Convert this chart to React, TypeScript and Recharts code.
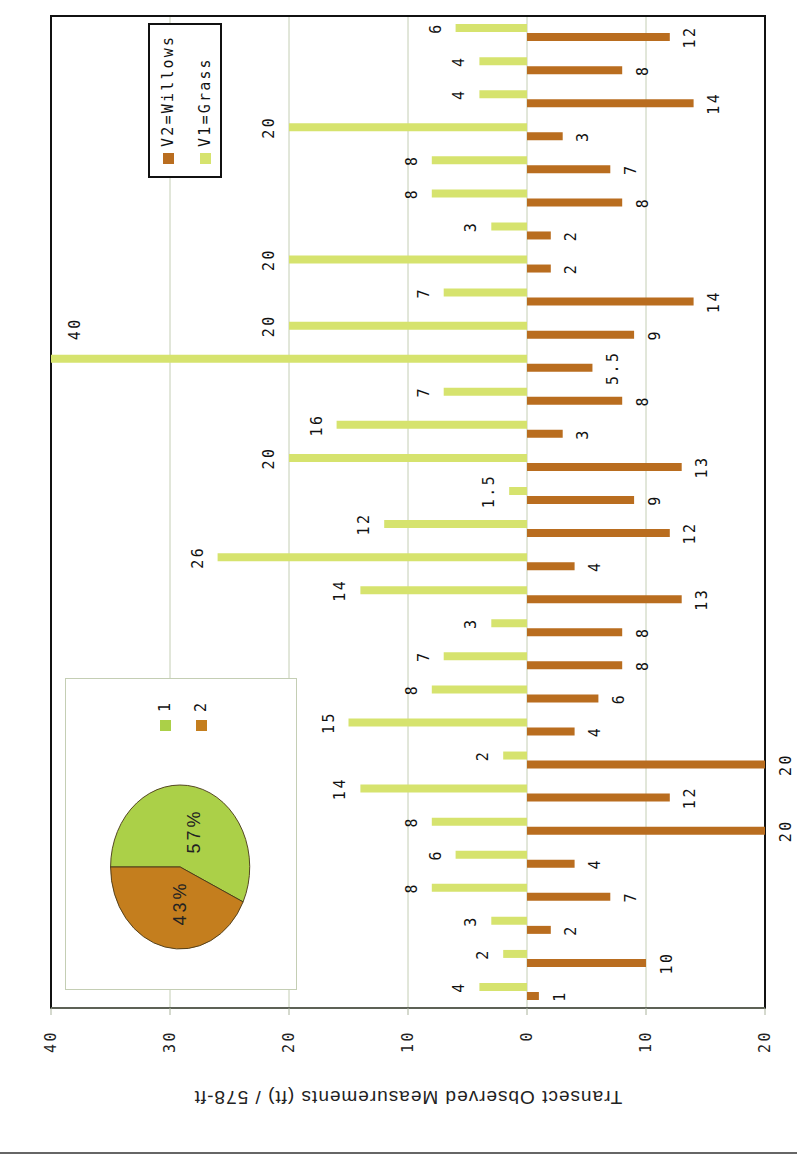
import React from 'react';
import {
  BarChart,
  Bar,
  XAxis,
  YAxis,
  CartesianGrid,
  LabelList,
  Legend,
  ReferenceArea,
  PieChart,
  Pie,
  Cell,
} from 'recharts';

// ---------- data ----------
const categories = [
  '1', '2', '3', '4', '5', '6', '7', '8', '9', '10',
  '11', '12', '13', '14', '15', '16', '17', '18', '19', '20',
  '21', '22', '23', '24', '25', '26', '27', '28', '29', '30',
];
const grassValues = [4, 2, 3, 8, 6, 8, 14, 2, 15, 8, 7, 3, 14, 26, 12, 1.5, 20, 16, 7, 40, 20, 7, 20, 3, 8, 8, 20, 4, 4, 6];
const willowValues = [1, 10, 2, 7, 4, 20, 12, 20, 4, 6, 8, 8, 13, 4, 12, 9, 13, 3, 8, 5.5, 9, 14, 2, 2, 8, 7, 3, 14, 8, 12];
const valueTicks = [-20, -10, 0, 10, 20, 30, 40];
const seriesNames = ['V2=Willows', 'V1=Grass'];
const axisTitle = 'Transect Observed Measurements (ft) / 578-ft';
const pieNames = ['1', '2'];
const pieValues = [57, 43];

// ---------- styles ----------
const W = 1160; // chart width before rotation (becomes page height)
const H = 797; // chart height before rotation (becomes page width)
const MARGIN = { top: 51, right: 16, bottom: 32, left: 40 };
const mono = "'DejaVu Sans Mono', monospace";
const sans = "'Liberation Sans', Arial, sans-serif";
const grassColor = '#d6e36e';
const willowColor = '#b96d1f';
const pieColors = ['#abd048', '#c47e1e'];
const gridColor = '#c4ceb4';
const LABEL_OFFSET = 15;

const tableData = categories.map((c, i) => ({
  cat: c,
  willows: -willowValues[i],
  grass: grassValues[i],
}));
const pieData = pieNames.map((n, i) => ({ name: n, value: pieValues[i] }));

const absFmt = (v: any) => String(Math.abs(Number(v)));

const labelTextProps = {
  fill: '#111',
  fontSize: 15,
  fontFamily: mono,
  letterSpacing: 2.5,
};

// Grass value label: above the bar end; if it would overflow the plot top,
// it is moved inside the plot beside the bar (as the spreadsheet did).
const GrassLabel = (p: any) => {
  const x = Number(p.x);
  const y = Number(p.y);
  const w = Number(p.width);
  const cx = x + w / 2;
  let tx = cx;
  let ty = y - LABEL_OFFSET;
  if (ty - 11 < MARGIN.top) {
    tx = cx + 30;
    ty = y + 29;
  }
  return (
    <text x={tx} y={ty} textAnchor="middle" {...labelTextProps}>
      {absFmt(p.value)}
    </text>
  );
};

const AxisTitle = (props: any) => {
  const vb = props.viewBox || { x: 0, y: 0, width: 0, height: 0 };
  const x = vb.x + 23;
  const y = vb.y + vb.height / 2;
  return (
    <text
      x={x}
      y={y}
      transform={`rotate(-90 ${x} ${y})`}
      textAnchor="middle"
      dominantBaseline="central"
      fontFamily={sans}
      fontSize={19}
      letterSpacing={1}
      fill="#222"
    >
      {axisTitle}
    </text>
  );
};

const MainLegend = (props: any) => {
  const payload = [...(props.payload || [])].sort(
    (a: any, b: any) => seriesNames.indexOf(a.value) - seriesNames.indexOf(b.value)
  );
  return (
    <div
      style={{
        width: 155,
        height: 74,
        boxSizing: 'border-box',
        border: '2px solid #111',
        background: '#fff',
        position: 'relative',
      }}
    >
      {payload.map((p: any, i: number) => (
        <div
          key={i}
          style={{
            position: 'absolute',
            left: 12,
            top: 9 + i * 37,
            display: 'flex',
            alignItems: 'center',
            height: 18,
          }}
        >
          <span style={{ display: 'inline-block', width: 11, height: 11, background: p.color, marginRight: 6 }} />
          <span style={{ fontFamily: mono, fontSize: 15, letterSpacing: 2.2, color: '#111' }}>{p.value}</span>
        </div>
      ))}
    </div>
  );
};

const PIE_SY = 70 / 82.5;

const PieLabel = (props: any) => {
  const RAD = Math.PI / 180;
  const r = props.outerRadius * 0.45;
  const x = props.cx + r * Math.cos(-props.midAngle * RAD);
  const y = props.cy + r * Math.sin(-props.midAngle * RAD) + 8;
  const pct = Math.round(props.percent * 100) + '%';
  return (
    <text
      x={0}
      y={0}
      transform={`translate(${x} ${y}) scale(1 ${1 / PIE_SY})`}
      textAnchor="middle"
      dominantBaseline="central"
      fontFamily={sans}
      fontSize={18}
      letterSpacing={3}
      fill="#222"
    >
      {pct}
    </text>
  );
};

export default function App() {
  return (
    <div
      style={{
        position: 'absolute',
        left: 0,
        top: 0,
        width: 797,
        height: 1160,
        background: '#fff',
        overflow: 'hidden',
      }}
    >
      <div
        style={{
          position: 'absolute',
          left: 0,
          top: 0,
          width: W,
          height: H,
          transformOrigin: '0 0',
          transform: `translateY(${W}px) rotate(-90deg)`,
        }}
      >
        <BarChart
          width={W}
          height={H}
          data={tableData}
          margin={MARGIN}
          barSize={8}
          barGap={1}
        >
          <CartesianGrid vertical={false} stroke={gridColor} />
          <XAxis dataKey="cat" hide />
          <YAxis
            type="number"
            domain={[-20, 40]}
            ticks={valueTicks}
            tickFormatter={absFmt}
            width={112}
            tickSize={7}
            tickMargin={15}
            stroke="#aab39c"
            tick={{ fill: '#222', fontSize: 15, fontFamily: mono, letterSpacing: 2.5 }}
            label={<AxisTitle />}
          />
          <ReferenceArea y1={-20} y2={40} fill="none" stroke="#111" strokeWidth={2} />
          <Legend
            layout="vertical"
            align="center"
            verticalAlign="middle"
            content={<MainLegend />}
            wrapperStyle={{ left: 982, top: 148, width: 155, height: 74 }}
          />
          <Bar dataKey="willows" name={seriesNames[0]} fill={willowColor} isAnimationActive={false}>
            <LabelList
              dataKey="willows"
              position="top"
              offset={LABEL_OFFSET}
              formatter={absFmt}
              {...labelTextProps}
            />
          </Bar>
          <Bar dataKey="grass" name={seriesNames[1]} fill={grassColor} isAnimationActive={false}>
            <LabelList dataKey="grass" content={<GrassLabel />} />
          </Bar>
        </BarChart>

        {/* pie inset */}
        <div
          style={{
            position: 'absolute',
            left: 170,
            top: 65,
            width: 312,
            height: 232,
            boxSizing: 'border-box',
            border: `1.5px solid ${gridColor}`,
            background: '#fff',
          }}
        >
          <div
            style={{
              position: 'absolute',
              left: 0,
              top: 0,
              transformOrigin: '0 115px',
              transform: `scaleY(${PIE_SY})`,
            }}
          >
            <PieChart width={300} height={230}>
              <Pie
                data={pieData}
                dataKey="value"
                nameKey="name"
                cx={117}
                cy={109}
                outerRadius={82}
                startAngle={90}
                endAngle={-270}
                stroke="#4a3a18"
                strokeWidth={1}
                labelLine={false}
                label={<PieLabel />}
                isAnimationActive={false}
              >
                {pieData.map((d, i) => (
                  <Cell key={d.name} fill={pieColors[i]} />
                ))}
              </Pie>
            </PieChart>
          </div>
          {pieData.map((d, i) => (
            <div
              key={d.name}
              style={{
                position: 'absolute',
                left: 258,
                top: 90 + i * 36,
                display: 'flex',
                alignItems: 'center',
                height: 18,
              }}
            >
              <span style={{ display: 'inline-block', width: 11, height: 11, background: pieColors[i], marginRight: 8 }} />
              <span style={{ fontFamily: mono, fontSize: 15, color: '#111' }}>{d.name}</span>
            </div>
          ))}
        </div>
      </div>
      {/* page edge */}
      <div style={{ position: 'absolute', left: 0, top: 1152, width: 797, height: 2, background: '#666' }} />
    </div>
  );
}
